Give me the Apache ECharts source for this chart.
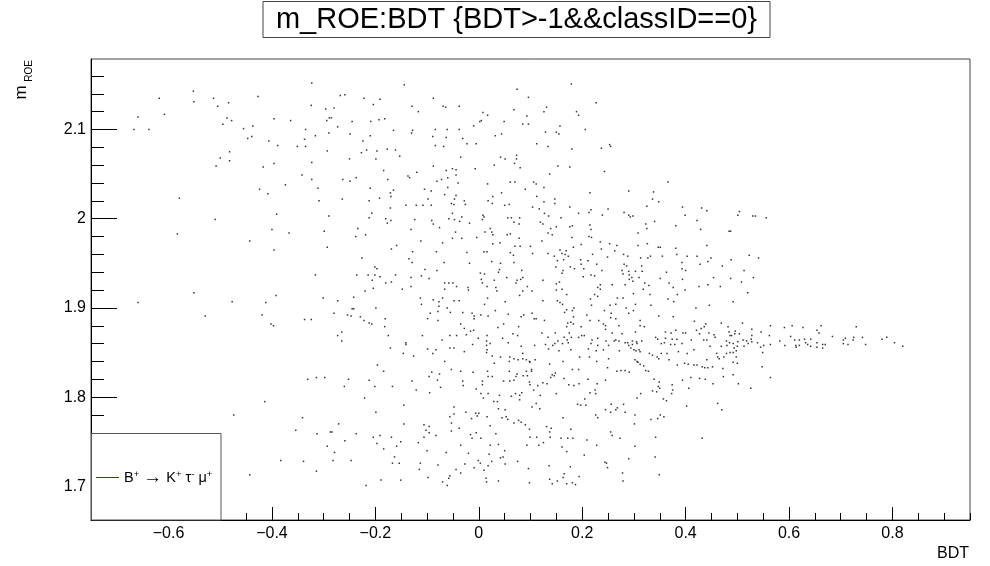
<!DOCTYPE html>
<html><head><meta charset="utf-8">
<script src="https://cdn.jsdelivr.net/npm/echarts@6/dist/echarts.min.js"></script>
<style>html,body{margin:0;padding:0;background:#fff}#c{width:990px;height:566px}</style>
</head><body><div id="c"></div><script>
const FONT = '"Liberation Sans", Arial, Helvetica, sans-serif';
const chartTitle = 'm_ROE:BDT {BDT>-1&&classID==0}';
const seriesName = 'B⁺ → K⁺ τ⁻ μ⁺';
const xTitle = 'BDT';
const yTitleMain = 'm';
const yTitleSub = 'ROE';
const xMin = -0.75, xMax = 0.95;
const yMin = 1.6623, yMax = 2.179;
const xMajorTicks = [-0.6,-0.4,-0.2,0,0.2,0.4,0.6,0.8];
const xMinorTicks = [-0.75,-0.7,-0.65,-0.55,-0.5,-0.45,-0.35,-0.3,-0.25,-0.15,-0.1,-0.05,0.05,0.1,0.15,0.25,0.3,0.35,0.45,0.5,0.55,0.65,0.7,0.75,0.85,0.9,0.95];
const yMajorTicks = [1.7,1.8,1.9,2.0,2.1];
const yMinorTicks = [1.68,1.72,1.74,1.76,1.78,1.82,1.84,1.86,1.88,1.92,1.94,1.96,1.98,2.02,2.04,2.06,2.08,2.12,2.14,2.16];

// [BDT, m_ROE] points, by region
const ptsUpperLeft = [[-0.552,2.143],[-0.618,2.135],[-0.513,2.135],[-0.551,2.131],[-0.484,2.130],[-0.427,2.137],[-0.505,2.126],[-0.324,2.127],[-0.296,2.123],[-0.659,2.114],[-0.608,2.117],[-0.487,2.113],[-0.478,2.110],[-0.396,2.112],[-0.364,2.110],[-0.294,2.110],[-0.285,2.113],[-0.495,2.106],[-0.437,2.104],[-0.667,2.100],[-0.638,2.100],[-0.455,2.101],[-0.335,2.100],[-0.316,2.093],[-0.290,2.096],[-0.447,2.090],[-0.439,2.092],[-0.406,2.087],[-0.337,2.089],[-0.389,2.082],[-0.351,2.081],[-0.335,2.081],[-0.293,2.076],[-0.482,2.075],[-0.500,2.068],[-0.482,2.065],[-0.508,2.059],[-0.417,2.058],[-0.396,2.062],[-0.323,2.063],[-0.342,2.049],[-0.323,2.044],[-0.374,2.038],[-0.311,2.034],[-0.424,2.033],[-0.408,2.028],[-0.579,2.023],[-0.309,2.020],[-0.391,2.005],[-0.290,2.003],[-0.510,1.999],[-0.400,1.988],[-0.367,1.984],[-0.299,1.986],[-0.583,1.983],[-0.443,1.975],[-0.293,1.968],[-0.396,1.965],[-0.316,1.937],[-0.323,2.152]];
const ptsLowerLeft = [[-0.551,1.917],[-0.659,1.906],[-0.477,1.907],[-0.412,1.906],[-0.392,1.914],[-0.301,1.911],[-0.529,1.891],[-0.419,1.892],[-0.402,1.882],[-0.397,1.880],[-0.337,1.887],[-0.324,1.887],[-0.331,1.820],[-0.314,1.822],[-0.298,1.822],[-0.414,1.795],[-0.474,1.780],[-0.341,1.777],[-0.354,1.763],[-0.313,1.759],[-0.284,1.761],[-0.293,1.745],[-0.383,1.729],[-0.339,1.728],[-0.314,1.717],[-0.443,1.713]];
const ptsUpperMid = [[-0.144,2.150],[-0.268,2.138],[-0.259,2.139],[-0.222,2.135],[-0.191,2.134],[-0.204,2.128],[-0.280,2.124],[-0.088,2.135],[-0.129,2.126],[-0.117,2.120],[-0.069,2.126],[-0.064,2.125],[-0.038,2.126],[0.074,2.145],[0.096,2.136],[-0.289,2.113],[-0.245,2.109],[-0.209,2.109],[-0.193,2.111],[-0.182,2.112],[-0.273,2.103],[0.008,2.119],[0.017,2.116],[0.068,2.122],[0.093,2.115],[0.005,2.110],[0.002,2.109],[-0.010,2.104],[0.049,2.109],[0.085,2.106],[0.096,2.106],[-0.165,2.099],[-0.128,2.099],[-0.130,2.096],[-0.084,2.100],[-0.061,2.100],[-0.038,2.100],[-0.249,2.095],[-0.210,2.093],[-0.224,2.087],[-0.089,2.092],[-0.063,2.091],[-0.031,2.090],[0.032,2.093],[0.044,2.095],[-0.217,2.077],[-0.197,2.076],[-0.177,2.078],[-0.161,2.077],[-0.153,2.070],[-0.227,2.074],[-0.084,2.082],[-0.068,2.081],[-0.023,2.084],[-0.005,2.084],[-0.250,2.067],[-0.199,2.067],[-0.035,2.069],[0.042,2.069],[0.051,2.067],[0.073,2.071],[0.073,2.067],[0.069,2.062],[0.030,2.060],[0.080,2.057],[-0.088,2.059],[-0.063,2.054],[-0.051,2.056],[-0.044,2.055],[-0.007,2.056],[-0.184,2.054],[-0.120,2.052],[-0.237,2.046],[-0.263,2.044],[-0.249,2.042],[-0.176,2.044],[-0.137,2.048],[-0.134,2.046],[-0.072,2.044],[-0.060,2.046],[-0.044,2.049],[-0.081,2.042],[-0.040,2.040],[0.017,2.039],[0.061,2.041],[0.070,2.041],[0.090,2.033],[-0.210,2.034],[-0.165,2.032],[-0.171,2.029],[-0.170,2.025],[-0.192,2.023],[-0.212,2.020],[-0.264,2.022],[-0.105,2.033],[-0.092,2.031],[-0.060,2.035],[-0.066,2.027],[-0.044,2.026],[-0.047,2.022],[-0.098,2.022],[-0.028,2.020],[0.018,2.020],[0.027,2.025],[0.044,2.029],[-0.141,2.015],[-0.121,2.015],[-0.108,2.015],[-0.092,2.015],[-0.053,2.017],[-0.048,2.016],[-0.026,2.016],[0.026,2.017],[0.050,2.015],[0.059,2.016],[-0.171,2.012],[-0.207,2.006],[-0.212,2.001],[-0.180,2.000],[-0.177,1.995],[-0.170,1.998],[-0.124,1.999],[-0.091,1.998],[-0.088,1.994],[-0.058,2.000],[-0.047,1.999],[-0.037,1.997],[-0.033,2.002],[-0.051,2.006],[-0.018,1.995],[0.008,2.004],[0.010,2.002],[0.007,1.999],[0.056,2.001],[0.063,2.001],[0.079,2.001],[0.068,1.996],[0.078,1.994],[-0.234,1.989],[-0.238,1.980],[-0.219,1.982],[-0.131,1.988],[-0.076,1.990],[-0.045,1.985],[-0.051,1.978],[-0.033,1.978],[-0.004,1.979],[0.012,1.985],[0.022,1.989],[0.025,1.985],[0.027,1.982],[0.055,1.982],[0.061,1.983],[0.078,1.978],[0.070,1.969],[0.080,1.969],[0.100,1.969],[-0.159,1.970],[-0.169,1.966],[-0.112,1.975],[-0.070,1.973],[0.027,1.972],[0.041,1.973],[-0.128,1.963],[-0.082,1.963],[-0.023,1.962],[0.010,1.963],[0.016,1.963],[0.061,1.962],[0.067,1.959],[-0.226,1.956],[-0.135,1.955],[-0.129,1.951],[-0.067,1.951],[-0.018,1.950],[0.025,1.952],[0.042,1.950],[0.068,1.951],[-0.201,1.946],[-0.197,1.944],[-0.104,1.943],[-0.081,1.942],[0.040,1.943],[0.083,1.942],[0.038,1.940],[-0.236,1.937],[-0.214,1.937],[-0.201,1.937],[-0.191,1.935],[-0.161,1.937],[-0.131,1.934],[-0.111,1.936],[-0.096,1.933],[0.003,1.939],[0.011,1.938],[0.054,1.934],[0.005,1.932],[0.030,1.931],[0.074,1.931],[0.081,1.932],[0.085,1.934],[-0.206,1.931],[-0.180,1.928],[-0.169,1.929],[-0.066,1.928],[-0.058,1.928],[-0.050,1.928],[0.007,1.928],[0.072,1.928],[-0.204,1.922],[-0.148,1.921],[-0.131,1.924],[-0.066,1.921],[-0.043,1.924],[-0.021,1.923],[0.016,1.924],[0.033,1.923],[0.094,1.924]];
const ptsLowerMid = [[-0.220,1.919],[-0.242,1.912],[-0.273,1.908],[-0.245,1.899],[-0.242,1.899],[-0.280,1.894],[-0.254,1.892],[-0.247,1.891],[-0.229,1.890],[-0.199,1.900],[-0.222,1.886],[-0.212,1.883],[-0.207,1.882],[-0.181,1.888],[-0.182,1.879],[-0.265,1.873],[-0.273,1.869],[-0.175,1.869],[-0.265,1.863],[-0.141,1.861],[-0.141,1.859],[-0.171,1.855],[-0.146,1.849],[-0.126,1.846],[-0.113,1.911],[-0.111,1.904],[-0.088,1.909],[-0.077,1.907],[-0.070,1.911],[-0.077,1.902],[-0.061,1.900],[-0.048,1.908],[-0.038,1.908],[-0.020,1.920],[0.017,1.911],[0.035,1.919],[0.011,1.904],[-0.094,1.894],[-0.079,1.896],[-0.055,1.895],[-0.031,1.895],[-0.013,1.894],[-0.009,1.891],[0.004,1.892],[0.018,1.891],[0.032,1.897],[0.057,1.893],[0.051,1.907],[0.085,1.919],[0.079,1.914],[0.082,1.890],[0.087,1.892],[-0.099,1.888],[-0.079,1.886],[-0.009,1.888],[-0.035,1.882],[-0.028,1.877],[-0.016,1.874],[-0.010,1.875],[0.037,1.878],[0.048,1.882],[0.077,1.879],[-0.109,1.869],[-0.056,1.869],[-0.043,1.869],[-0.071,1.864],[-0.024,1.870],[-0.001,1.866],[0.016,1.869],[0.066,1.871],[0.075,1.869],[0.046,1.866],[0.057,1.861],[0.015,1.863],[0.022,1.860],[0.015,1.858],[-0.012,1.859],[-0.099,1.854],[-0.083,1.853],[-0.089,1.849],[-0.056,1.855],[-0.048,1.855],[-0.028,1.851],[0.016,1.853],[0.015,1.850],[0.085,1.849],[0.082,1.857],[0.026,1.846],[0.042,1.845],[0.060,1.845],[0.068,1.843],[0.076,1.842],[0.085,1.843],[0.092,1.842],[0.099,1.839],[0.030,1.838],[0.059,1.840],[-0.066,1.840],[-0.196,1.836],[-0.184,1.829],[-0.091,1.828],[-0.096,1.823],[-0.076,1.826],[-0.053,1.831],[-0.035,1.829],[-0.011,1.828],[0.017,1.829],[0.026,1.823],[0.018,1.823],[0.059,1.829],[0.074,1.826],[0.092,1.829],[0.086,1.824],[0.094,1.824],[0.102,1.831],[0.099,1.814],[-0.252,1.820],[-0.260,1.812],[-0.212,1.819],[-0.201,1.812],[-0.167,1.812],[-0.129,1.818],[-0.080,1.819],[-0.074,1.811],[-0.031,1.818],[-0.030,1.813],[0.007,1.818],[0.007,1.814],[0.048,1.818],[0.060,1.818],[0.068,1.819],[0.072,1.823],[-0.121,1.808],[-0.095,1.805],[-0.005,1.809],[0.004,1.804],[0.018,1.804],[0.009,1.799],[0.040,1.802],[0.063,1.801],[0.071,1.804],[0.079,1.802],[0.083,1.805],[-0.221,1.799],[-0.145,1.791],[0.029,1.795],[0.036,1.795],[0.038,1.787],[0.051,1.786],[0.079,1.797],[-0.048,1.789],[-0.056,1.778],[-0.048,1.781],[-0.025,1.783],[-0.006,1.782],[0.000,1.782],[-0.003,1.779],[-0.014,1.776],[0.016,1.778],[0.045,1.777],[0.053,1.778],[0.056,1.775],[0.068,1.771],[0.077,1.774],[0.082,1.772],[0.090,1.769],[-0.199,1.783],[-0.271,1.770],[-0.287,1.761],[-0.237,1.759],[-0.259,1.751],[-0.204,1.755],[-0.191,1.757],[-0.169,1.755],[-0.151,1.750],[-0.145,1.770],[-0.159,1.745],[-0.184,1.742],[-0.197,1.748],[-0.106,1.769],[-0.096,1.767],[-0.102,1.763],[-0.096,1.760],[-0.083,1.757],[-0.106,1.755],[-0.117,1.749],[-0.053,1.771],[-0.038,1.765],[-0.053,1.762],[-0.016,1.758],[-0.005,1.760],[-0.013,1.754],[0.004,1.754],[0.022,1.768],[0.033,1.759],[0.099,1.755],[0.093,1.746],[-0.035,1.746],[0.022,1.746],[0.038,1.747],[0.050,1.740],[-0.279,1.738],[-0.282,1.729],[-0.247,1.729],[-0.163,1.733],[-0.167,1.726],[-0.154,1.726],[-0.113,1.726],[-0.100,1.740],[-0.063,1.738],[-0.020,1.737],[-0.001,1.729],[0.003,1.726],[-0.009,1.721],[0.020,1.736],[0.025,1.728],[0.018,1.723],[0.010,1.718],[0.042,1.732],[0.047,1.733],[0.051,1.725],[0.075,1.728],[0.096,1.720],[-0.115,1.719],[-0.079,1.724],[-0.044,1.719],[-0.035,1.715],[-0.027,1.725],[-0.098,1.710],[-0.056,1.712],[-0.058,1.709],[-0.070,1.705],[-0.061,1.701],[-0.189,1.707],[-0.151,1.707],[-0.218,1.701],[0.014,1.709],[0.015,1.705],[0.038,1.706]];
const ptsUpperRight = [[0.179,2.151],[0.227,2.130],[0.131,2.125],[0.126,2.120],[0.189,2.120],[0.193,2.116],[0.157,2.104],[0.206,2.100],[0.129,2.097],[0.150,2.097],[0.155,2.095],[0.112,2.084],[0.134,2.081],[0.180,2.078],[0.237,2.079],[0.253,2.083],[0.255,2.081],[0.153,2.059],[0.176,2.058],[0.243,2.053],[0.137,2.050],[0.106,2.041],[0.111,2.039],[0.126,2.035],[0.366,2.041],[0.112,2.025],[0.126,2.019],[0.147,2.022],[0.147,2.017],[0.215,2.029],[0.290,2.031],[0.338,2.030],[0.336,2.022],[0.348,2.019],[0.104,2.013],[0.117,2.011],[0.176,2.013],[0.217,2.010],[0.250,2.011],[0.325,2.014],[0.394,2.013],[0.431,2.012],[0.441,2.009],[0.127,2.006],[0.135,2.003],[0.159,2.001],[0.193,2.006],[0.213,2.007],[0.239,2.004],[0.281,2.007],[0.290,2.004],[0.293,2.002],[0.298,2.003],[0.399,2.004],[0.422,1.998],[0.340,1.997],[0.119,1.996],[0.124,1.994],[0.139,1.989],[0.150,1.991],[0.176,1.991],[0.181,1.992],[0.215,1.993],[0.217,1.988],[0.323,1.994],[0.325,1.989],[0.308,1.984],[0.381,1.992],[0.429,1.988],[0.487,1.986],[0.134,1.984],[0.142,1.982],[0.180,1.979],[0.213,1.980],[0.218,1.979],[0.122,1.975],[0.235,1.974],[0.253,1.972],[0.267,1.970],[0.198,1.971],[0.183,1.968],[0.237,1.966],[0.263,1.964],[0.308,1.970],[0.326,1.972],[0.347,1.968],[0.351,1.968],[0.381,1.967],[0.441,1.970],[0.104,1.961],[0.134,1.961],[0.146,1.958],[0.161,1.961],[0.167,1.960],[0.169,1.964],[0.157,1.965],[0.173,1.958],[0.220,1.960],[0.249,1.957],[0.280,1.960],[0.288,1.958],[0.313,1.956],[0.327,1.956],[0.332,1.958],[0.355,1.958],[0.383,1.960],[0.403,1.958],[0.422,1.958],[0.449,1.956],[0.443,1.952],[0.152,1.953],[0.164,1.954],[0.197,1.954],[0.211,1.953],[0.198,1.949],[0.228,1.949],[0.281,1.949],[0.286,1.947],[0.149,1.946],[0.177,1.946],[0.185,1.944],[0.203,1.944],[0.238,1.942],[0.277,1.942],[0.290,1.941],[0.303,1.941],[0.315,1.947],[0.316,1.941],[0.393,1.951],[0.393,1.944],[0.400,1.942],[0.428,1.949],[0.471,1.947],[0.163,1.942],[0.161,1.939],[0.217,1.937],[0.224,1.936],[0.202,1.935],[0.279,1.938],[0.291,1.937],[0.310,1.934],[0.296,1.934],[0.291,1.932],[0.298,1.930],[0.351,1.933],[0.363,1.940],[0.394,1.932],[0.454,1.934],[0.124,1.931],[0.156,1.929],[0.235,1.926],[0.235,1.921],[0.258,1.926],[0.283,1.926],[0.321,1.928],[0.329,1.925],[0.318,1.921],[0.368,1.928],[0.376,1.923],[0.426,1.924],[0.443,1.926],[0.467,1.924],[0.150,1.927],[0.161,1.921],[0.230,1.923]];
const ptsLowerRight = [[0.103,1.919],[0.150,1.920],[0.170,1.915],[0.224,1.915],[0.230,1.913],[0.268,1.911],[0.279,1.911],[0.299,1.916],[0.331,1.915],[0.366,1.910],[0.384,1.915],[0.399,1.920],[0.124,1.908],[0.152,1.908],[0.157,1.906],[0.162,1.904],[0.216,1.910],[0.218,1.903],[0.254,1.903],[0.265,1.904],[0.285,1.900],[0.303,1.904],[0.333,1.903],[0.377,1.907],[0.420,1.900],[0.446,1.903],[0.184,1.900],[0.170,1.898],[0.181,1.897],[0.243,1.897],[0.166,1.895],[0.103,1.894],[0.107,1.888],[0.111,1.888],[0.127,1.886],[0.256,1.894],[0.290,1.894],[0.183,1.890],[0.209,1.892],[0.255,1.889],[0.265,1.888],[0.299,1.897],[0.348,1.891],[0.376,1.890],[0.215,1.886],[0.232,1.886],[0.172,1.883],[0.178,1.884],[0.170,1.879],[0.183,1.882],[0.198,1.879],[0.241,1.882],[0.245,1.880],[0.271,1.880],[0.312,1.886],[0.312,1.880],[0.320,1.879],[0.417,1.885],[0.439,1.882],[0.436,1.879],[0.469,1.883],[0.482,1.879],[0.122,1.872],[0.148,1.872],[0.175,1.872],[0.199,1.869],[0.204,1.869],[0.245,1.876],[0.258,1.872],[0.277,1.871],[0.303,1.873],[0.361,1.873],[0.372,1.872],[0.381,1.875],[0.395,1.872],[0.400,1.872],[0.421,1.875],[0.430,1.877],[0.427,1.871],[0.445,1.872],[0.455,1.870],[0.457,1.867],[0.484,1.873],[0.486,1.869],[0.134,1.867],[0.165,1.867],[0.179,1.867],[0.171,1.864],[0.193,1.867],[0.219,1.864],[0.230,1.866],[0.246,1.863],[0.262,1.863],[0.265,1.864],[0.271,1.863],[0.283,1.861],[0.288,1.861],[0.297,1.863],[0.305,1.862],[0.315,1.863],[0.342,1.867],[0.346,1.865],[0.361,1.866],[0.374,1.865],[0.383,1.865],[0.411,1.864],[0.435,1.864],[0.441,1.864],[0.479,1.863],[0.485,1.861],[0.153,1.863],[0.147,1.860],[0.143,1.858],[0.162,1.860],[0.173,1.861],[0.217,1.860],[0.230,1.858],[0.251,1.858],[0.290,1.858],[0.297,1.859],[0.306,1.860],[0.353,1.860],[0.359,1.861],[0.371,1.859],[0.379,1.859],[0.393,1.860],[0.447,1.857],[0.469,1.857],[0.480,1.858],[0.108,1.858],[0.129,1.859],[0.135,1.854],[0.155,1.852],[0.178,1.853],[0.212,1.854],[0.227,1.852],[0.241,1.853],[0.272,1.852],[0.294,1.855],[0.300,1.853],[0.304,1.852],[0.310,1.853],[0.312,1.851],[0.330,1.849],[0.336,1.847],[0.345,1.845],[0.348,1.843],[0.353,1.849],[0.364,1.849],[0.368,1.842],[0.386,1.851],[0.403,1.849],[0.416,1.853],[0.441,1.842],[0.460,1.849],[0.462,1.845],[0.465,1.843],[0.474,1.845],[0.479,1.849],[0.486,1.850],[0.109,1.842],[0.163,1.840],[0.195,1.845],[0.214,1.845],[0.228,1.840],[0.251,1.843],[0.302,1.842],[0.306,1.840],[0.308,1.839],[0.312,1.837],[0.319,1.835],[0.328,1.829],[0.384,1.836],[0.398,1.838],[0.405,1.837],[0.416,1.836],[0.422,1.836],[0.432,1.834],[0.437,1.833],[0.443,1.833],[0.452,1.834],[0.472,1.832],[0.098,1.840],[0.102,1.829],[0.137,1.837],[0.142,1.825],[0.139,1.822],[0.146,1.824],[0.148,1.827],[0.165,1.821],[0.181,1.831],[0.193,1.831],[0.249,1.833],[0.267,1.829],[0.275,1.830],[0.283,1.830],[0.291,1.828],[0.323,1.830],[0.394,1.819],[0.410,1.822],[0.406,1.810],[0.427,1.821],[0.438,1.820],[0.453,1.815],[0.473,1.823],[0.114,1.813],[0.124,1.816],[0.132,1.815],[0.174,1.814],[0.184,1.813],[0.194,1.815],[0.211,1.820],[0.229,1.815],[0.245,1.819],[0.339,1.820],[0.349,1.817],[0.347,1.812],[0.350,1.810],[0.344,1.806],[0.336,1.807],[0.357,1.798],[0.363,1.796],[0.374,1.814],[0.375,1.808],[0.373,1.804],[0.098,1.817],[0.106,1.808],[0.119,1.802],[0.150,1.804],[0.215,1.805],[0.225,1.808],[0.226,1.804],[0.205,1.798],[0.197,1.791],[0.207,1.791],[0.191,1.792],[0.103,1.789],[0.118,1.787],[0.111,1.793],[0.256,1.792],[0.265,1.786],[0.268,1.788],[0.280,1.792],[0.283,1.783],[0.306,1.799],[0.313,1.804],[0.402,1.790],[0.462,1.793],[0.470,1.786],[0.163,1.777],[0.226,1.780],[0.230,1.777],[0.255,1.783],[0.245,1.786],[0.302,1.780],[0.301,1.770],[0.333,1.775],[0.346,1.776],[0.351,1.780],[0.358,1.778],[0.131,1.767],[0.137,1.761],[0.140,1.765],[0.159,1.754],[0.172,1.754],[0.178,1.764],[0.182,1.754],[0.209,1.752],[0.125,1.749],[0.116,1.746],[0.161,1.744],[0.170,1.739],[0.112,1.755],[0.098,1.764],[0.138,1.755],[0.255,1.761],[0.258,1.757],[0.273,1.754],[0.302,1.745],[0.342,1.755],[0.432,1.754],[0.204,1.735],[0.228,1.746],[0.290,1.731],[0.244,1.727],[0.247,1.726],[0.249,1.721],[0.341,1.733],[0.136,1.723],[0.165,1.714],[0.177,1.722],[0.194,1.711],[0.163,1.710],[0.137,1.708],[0.142,1.703],[0.170,1.703],[0.181,1.704],[0.187,1.702],[0.152,1.706],[0.098,1.704],[0.278,1.715],[0.279,1.706],[0.349,1.713]];
const ptsTail = [[0.504,2.008],[0.501,2.004],[0.530,2.003],[0.535,2.003],[0.556,2.001],[0.484,1.986],[0.523,1.959],[0.541,1.956],[0.488,1.954],[0.513,1.942],[0.487,1.933],[0.531,1.934],[0.508,1.929],[0.520,1.917],[0.492,1.907],[0.510,1.883],[0.564,1.880],[0.591,1.878],[0.606,1.880],[0.627,1.878],[0.662,1.880],[0.730,1.879],[0.496,1.874],[0.528,1.876],[0.546,1.873],[0.562,1.869],[0.528,1.869],[0.489,1.869],[0.495,1.871],[0.504,1.871],[0.511,1.864],[0.527,1.865],[0.582,1.863],[0.603,1.868],[0.611,1.864],[0.620,1.864],[0.630,1.865],[0.642,1.865],[0.654,1.875],[0.658,1.872],[0.684,1.868],[0.709,1.866],[0.725,1.867],[0.742,1.867],[0.705,1.864],[0.780,1.865],[0.789,1.867],[0.724,1.864],[0.804,1.861],[0.492,1.860],[0.501,1.862],[0.518,1.863],[0.521,1.860],[0.528,1.862],[0.539,1.861],[0.500,1.857],[0.513,1.857],[0.551,1.858],[0.564,1.859],[0.592,1.858],[0.613,1.858],[0.620,1.858],[0.632,1.861],[0.636,1.859],[0.642,1.857],[0.654,1.861],[0.654,1.856],[0.665,1.859],[0.665,1.855],[0.670,1.859],[0.705,1.860],[0.714,1.859],[0.748,1.859],[0.820,1.857],[0.545,1.856],[0.614,1.856],[0.494,1.855],[0.492,1.850],[0.498,1.852],[0.549,1.850],[0.498,1.845],[0.492,1.839],[0.500,1.838],[0.548,1.834],[0.492,1.825],[0.564,1.822],[0.502,1.815],[0.526,1.810]];

const allPoints = [].concat(ptsUpperLeft, ptsLowerLeft, ptsUpperMid, ptsLowerMid, ptsUpperRight, ptsLowerRight, ptsTail);

const fmt = v => String(Math.round(v * 100) / 100).replace('-', '\u2212');
const chart = echarts.init(document.getElementById('c'), null, {renderer: 'canvas'});
chart.setOption({
  animation: false,
  backgroundColor: '#fff',
  textStyle: {fontFamily: FONT},
  title: {
    text: chartTitle, left: 516.5, top: 5, textAlign: 'center', padding: 0, z: 20,
    textStyle: {fontSize: 29, fontWeight: 'normal', color: '#000', fontFamily: FONT}
  },
  grid: {left: 91, top: 59, right: 20, bottom: 46, show: true, borderColor: '#444', borderWidth: 1, backgroundColor: 'transparent'},
  xAxis: [
    {type: 'value', min: xMin, max: xMax, position: 'bottom',
     axisLine: {onZero: false, lineStyle: {color: '#000', width: 1}},
     axisTick: {inside: true, length: 13, customValues: xMajorTicks, lineStyle: {color: '#000'}},
     axisLabel: {customValues: xMajorTicks, formatter: fmt, fontSize: 16, color: '#000', margin: 6, fontFamily: FONT},
     splitLine: {show: false}},
    {type: 'value', min: xMin, max: xMax, position: 'bottom',
     axisLine: {show: false, onZero: false},
     axisTick: {inside: true, length: 7, customValues: xMinorTicks, lineStyle: {color: '#000'}},
     axisLabel: {show: false}, splitLine: {show: false}}
  ],
  yAxis: [
    {type: 'value', min: yMin, max: yMax, position: 'left',
     axisLine: {show: true, onZero: false, lineStyle: {color: '#000', width: 1}},
     axisTick: {show: true, inside: true, length: 26, customValues: yMajorTicks, lineStyle: {color: '#000'}},
     axisLabel: {customValues: yMajorTicks, formatter: fmt, fontSize: 16, color: '#000', margin: 5, fontFamily: FONT},
     splitLine: {show: false}},
    {type: 'value', min: yMin, max: yMax, position: 'left',
     axisLine: {show: false, onZero: false},
     axisTick: {show: true, inside: true, length: 13, customValues: yMinorTicks, lineStyle: {color: '#000'}},
     axisLabel: {show: false}, splitLine: {show: false}}
  ],
  legend: {
    left: 96, top: 468, padding: 0, itemWidth: 23, itemHeight: 1, z: 60, selectedMode: false,
    data: [{name: seriesName, icon: 'rect', itemStyle: {color: '#000080'}}],
    formatter: () => '{n|B}{s|+}{n| }{a|\u2192}{n| K}{s|+}{n| \u03c4}{s|-}{n| \u03bc}{s|+}',
    textStyle: {color: '#000', fontFamily: FONT, fontSize: 14.5,
      rich: {n: {fontSize: 14.5, fontFamily: FONT, color: '#000', lineHeight: 17},
             a: {fontSize: 19, fontFamily: FONT, color: '#000', lineHeight: 17},
             s: {fontSize: 9.5, fontFamily: FONT, color: '#000', verticalAlign: 'top', lineHeight: 9}}}
  },
  graphic: [
    {type: 'rect', z: 5, shape: {x: 263, y: 1.5, width: 507, height: 36}, style: {fill: '#fff', stroke: '#444', lineWidth: 1}},
    {type: 'rect', z: 50, shape: {x: 91.5, y: 433.5, width: 129.5, height: 86.5}, style: {fill: '#fff', stroke: '#555', lineWidth: 1}},
    {type: 'text', z: 50, x: 21.5, y: 92.5, rotation: Math.PI / 2, style: {text: yTitleMain, fontSize: 17, fontFamily: FONT, fill: '#000', align: 'center', verticalAlign: 'middle'}},
    {type: 'text', z: 50, x: 29.5, y: 71, rotation: Math.PI / 2, style: {text: yTitleSub, fontSize: 10, fontFamily: FONT, fill: '#000', align: 'center', verticalAlign: 'middle'}},
    {type: 'text', z: 50, x: 969, y: 554, style: {text: xTitle, fontSize: 16, fontFamily: FONT, fill: '#000', align: 'right', verticalAlign: 'middle'}}
  ],
  series: [{
    name: seriesName, type: 'scatter', xAxisIndex: 0, yAxisIndex: 0,
    symbol: 'rect', symbolSize: 1.5, silent: true,
    itemStyle: {color: '#000'},
    data: allPoints
  }]
});
</script></body></html>
